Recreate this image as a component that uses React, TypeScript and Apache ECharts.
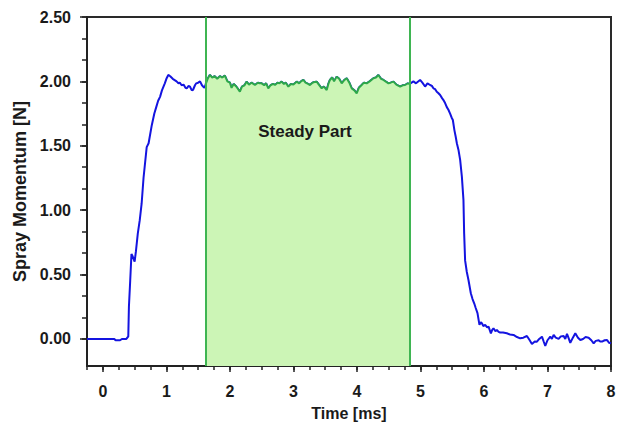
import React, { useEffect, useRef } from "react";
import * as echarts from "echarts";

// ---- data ----
const timeMs: number[] = [
  -0.25, 0.0, 0.18, 0.2, 0.27, 0.3, 0.37, 0.4, 0.41, 0.43, 0.45, 0.47, 0.5, 0.52, 0.55, 0.58, 0.61, 0.64, 0.69, 0.72,
  0.77, 0.81, 0.84, 0.87, 0.9, 0.93, 0.975, 1.0, 1.03, 1.06, 1.1, 1.13, 1.16, 1.19, 1.21, 1.24, 1.27, 1.3, 1.32, 1.35,
  1.37, 1.4, 1.42, 1.45, 1.47, 1.5, 1.53, 1.56, 1.58, 1.6,
  1.62, 1.65, 1.684, 1.72, 1.76, 1.8, 1.842, 1.88, 1.92, 1.96, 2.0, 2.026, 2.06, 2.1, 2.157, 2.19, 2.23, 2.262, 2.3,
  2.34, 2.394, 2.44, 2.47, 2.499, 2.54, 2.57, 2.604, 2.64, 2.68, 2.709, 2.75, 2.78, 2.814, 2.85, 2.88, 2.92, 2.96, 3.0,
  3.051, 3.09, 3.12, 3.156, 3.19, 3.23, 3.26, 3.3, 3.33, 3.366, 3.4, 3.445, 3.48, 3.524, 3.55, 3.575, 3.61, 3.64,
  3.681, 3.72, 3.76, 3.8, 3.839, 3.88, 3.918, 3.96, 3.996, 4.03, 4.075, 4.11, 4.154, 4.2, 4.26, 4.3, 4.338, 4.38,
  4.417, 4.45, 4.496, 4.53, 4.575, 4.62, 4.68, 4.72, 4.758, 4.8, 4.83,
  4.86, 4.889, 4.93, 4.994, 5.03, 5.073, 5.11, 5.152, 5.18, 5.204, 5.23, 5.257, 5.28, 5.31, 5.34, 5.362, 5.39, 5.415,
  5.44, 5.467, 5.49, 5.51, 5.535, 5.555, 5.573, 5.598, 5.625, 5.652, 5.677, 5.688, 5.703, 5.73, 5.756, 5.793, 5.82,
  5.846, 5.87, 5.898, 5.915, 5.929, 5.95, 5.967, 5.99, 6.019, 6.05, 6.072, 6.09, 6.109, 6.13, 6.15, 6.18, 6.203, 6.23,
  6.255, 6.3, 6.36, 6.41, 6.465, 6.52, 6.57, 6.62, 6.676, 6.72, 6.755, 6.8, 6.834, 6.87, 6.913, 6.94, 6.965, 7.0,
  7.044, 7.07, 7.097, 7.13, 7.175, 7.21, 7.254, 7.28, 7.307, 7.33, 7.359, 7.4, 7.438, 7.48, 7.517, 7.56, 7.6, 7.648,
  7.69, 7.727, 7.76, 7.806, 7.83, 7.859, 7.9, 7.938, 7.97, 8.0,
];

const momentumN: number[] = [
  0, 0, 0, -0.01, -0.01, 0, 0, 0.02, 0.25, 0.45, 0.66, 0.64, 0.6, 0.68, 0.82, 0.92, 1.05, 1.25, 1.49, 1.52,
  1.66, 1.75, 1.8, 1.85, 1.88, 1.93, 1.985, 2.02, 2.05, 2.04, 2.02, 2.01, 2.0, 1.985, 1.99, 1.97, 1.975, 1.95, 1.946, 1.965,
  1.96, 1.93, 1.935, 1.97, 1.985, 1.99, 2.0, 1.97, 1.959, 1.95,
  1.98, 2.02, 2.05, 2.03, 2.04, 2.02, 2.04, 2.03, 2.045, 2.0, 1.99, 1.95, 1.98, 1.96, 1.92, 1.96, 1.97, 1.998, 1.975,
  1.99, 1.972, 1.99, 1.985, 1.985, 1.97, 1.985, 1.946, 1.97, 1.98, 1.972, 1.99, 1.985, 1.998, 1.98, 1.99, 1.959, 1.98, 1.975,
  1.998, 1.985, 2.0, 2.011, 1.99, 1.98, 1.972, 1.99, 1.995, 1.998, 1.975, 1.946, 1.96, 1.933, 1.98, 2.011, 2.03, 2.0,
  2.037, 2.02, 1.985, 2.01, 2.024, 1.99, 1.946, 1.93, 1.907, 1.95, 1.972, 1.99, 1.985, 2.0, 2.024, 2.03, 2.05, 2.02,
  2.011, 2.0, 1.985, 1.99, 1.998, 1.975, 1.959, 1.97, 1.972, 1.985, 1.98,
  1.99, 2.0, 1.985, 2.011, 1.99, 1.96, 1.985, 1.972, 1.965, 1.946, 1.94, 1.92, 1.91, 1.894, 1.87, 1.855, 1.83, 1.8,
  1.78, 1.75, 1.72, 1.7, 1.62, 1.57, 1.52, 1.47, 1.39, 1.26, 1.08, 0.82, 0.61, 0.52, 0.458, 0.355, 0.31,
  0.277, 0.24, 0.2, 0.15, 0.109, 0.13, 0.122, 0.1, 0.109, 0.09, 0.096, 0.07, 0.044, 0.07, 0.083, 0.06, 0.07, 0.055,
  0.05, 0.05, 0.044, 0.035, 0.031, 0.015, 0.005, 0.01, 0.023, -0.01, -0.039, -0.02, -0.021, 0.0, 0.018, -0.02, -0.054, -0.01,
  0.018, 0.0, 0.031, 0.01, 0.0, 0.02, 0.023, 0.0, 0.039, 0.01, -0.03, 0.01, 0.044, 0.01, -0.008, 0.0, 0.015, 0.01,
  -0.01, -0.034, -0.015, -0.01, -0.02, -0.02, -0.01, -0.008, -0.03, -0.034,
];

const steadyStart = 1.62;
const steadyEnd = 4.83;
const steadyLabel = "Steady Part";

const xLabelValues: number[] = [0, 1, 2, 3, 4, 5, 6, 7, 8];
const yLabelValues: number[] = [0, 0.5, 1.0, 1.5, 2.0, 2.5];
const xMin = -0.25;
const xMax = 8;
const yMin = -0.21;
const yMax = 2.5;

export default function App() {
  const ref = useRef<HTMLDivElement>(null);

  useEffect(() => {
    document.body.style.margin = "0";
    if (!ref.current) return;
    const chart = echarts.init(ref.current, null, { renderer: "svg" });

    const all = timeMs.map((t, i) => [t, momentumN[i]]);
    const steady = all.filter((p) => p[0] >= steadyStart && p[0] <= steadyEnd);

    const xMinor: number[] = [];
    for (let v = xMin; v <= xMax + 1e-9; v += 0.25) xMinor.push(Math.round(v * 100) / 100);
    const yMinor: number[] = [];
    for (let k = 0; k <= 15; k++) yMinor.push(k / 6);

    const font = "'Liberation Sans', Arial, sans-serif";
    const txt = "#1a1a1a";
    const axisCol = "#222";

    chart.setOption({
      animation: false,
      backgroundColor: "#ffffff",
      grid: {
        left: 87,
        right: 9,
        top: 17,
        bottom: 60,
        show: true,
        borderColor: "#2a2a2a",
        borderWidth: 2,
        backgroundColor: "transparent",
      },
      xAxis: [
        {
          type: "value",
          min: xMin,
          max: xMax,
          name: "Time [ms]",
          nameLocation: "middle",
          nameGap: 39,
          nameTextStyle: { fontFamily: font, fontWeight: "bold", fontSize: 16, color: txt },
          axisLine: { show: true, onZero: false, lineStyle: { color: axisCol, width: 2 } },
          axisTick: { show: true, customValues: xLabelValues, length: 6, lineStyle: { color: axisCol, width: 1.5 } },
          axisLabel: {
            show: true,
            customValues: xLabelValues,
            margin: 17,
            fontFamily: font,
            fontWeight: "bold",
            fontSize: 16,
            color: txt,
            formatter: (v: number) => String(v),
          },
          splitLine: { show: false },
        },
        {
          type: "value",
          min: xMin,
          max: xMax,
          position: "bottom",
          axisLine: { show: false, onZero: false },
          axisTick: { show: true, customValues: xMinor, length: 4, lineStyle: { color: axisCol, width: 1.5 } },
          axisLabel: { show: false },
          splitLine: { show: false },
        },
      ],
      yAxis: [
        {
          type: "value",
          min: yMin,
          max: yMax,
          name: "Spray Momentum [N]",
          nameLocation: "middle",
          nameGap: 57,
          nameRotate: 90,
          nameTextStyle: { fontFamily: font, fontWeight: "bold", fontSize: 18, color: txt },
          axisLine: { show: true, onZero: false, lineStyle: { color: axisCol, width: 2 } },
          axisTick: { show: true, customValues: yLabelValues, length: 7, lineStyle: { color: axisCol, width: 1.5 } },
          axisLabel: {
            show: true,
            customValues: yLabelValues,
            margin: 16,
            fontFamily: font,
            fontWeight: "bold",
            fontSize: 16,
            color: txt,
            formatter: (v: number) => v.toFixed(2),
          },
          splitLine: { show: false },
        },
        {
          type: "value",
          min: yMin,
          max: yMax,
          position: "left",
          axisLine: { show: false, onZero: false },
          axisTick: { show: true, customValues: yMinor, length: 5, lineStyle: { color: axisCol, width: 1.5 } },
          axisLabel: { show: false },
          splitLine: { show: false },
        },
      ],
      graphic: [
        {
          type: "text",
          x: 305,
          y: 131,
          style: {
            text: steadyLabel,
            fontFamily: font,
            fontWeight: "bold",
            fontSize: 17,
            fill: txt,
            textAlign: "center",
            textVerticalAlign: "middle",
          },
          z: 100,
        },
      ],
      series: [
        {
          type: "line",
          name: "momentum",
          data: all,
          showSymbol: false,
          symbol: "none",
          lineStyle: { color: "#1414e0", width: 2 },
          z: 3,
        },
        {
          type: "line",
          name: "steady",
          data: steady,
          showSymbol: false,
          symbol: "none",
          lineStyle: { color: "#2ea84a", width: 2 },
          areaStyle: { color: "#ccf5b6", opacity: 1, origin: "start" },
          z: 4,
          markLine: {
            silent: true,
            symbol: ["none", "none"],
            label: { show: false },
            lineStyle: { color: "#3fb552", width: 2, type: "solid" },
            data: [{ xAxis: steadyStart }, { xAxis: steadyEnd }],
          },
        },
      ],
    });

    return () => chart.dispose();
  }, []);

  return <div ref={ref} style={{ width: 620, height: 426 }} />;
}
